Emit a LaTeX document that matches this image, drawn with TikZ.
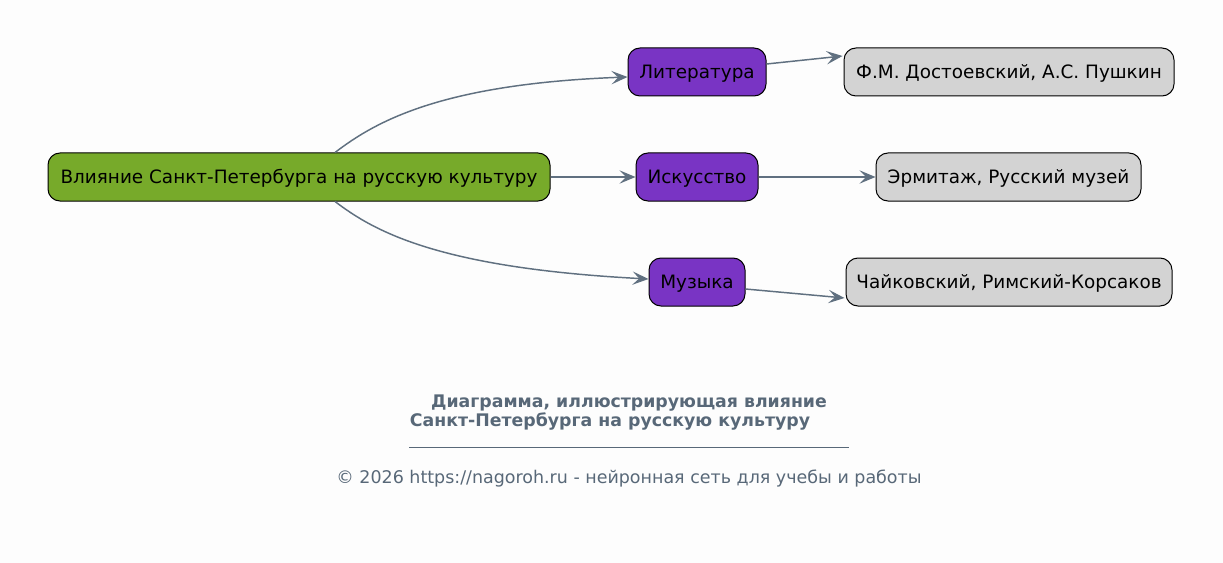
\documentclass[tikz,border=0pt]{standalone}
\usepackage{fontspec}
\setmainfont{DejaVu Sans}
\usetikzlibrary{arrows.meta,calc}

\definecolor{rootgreen}{RGB}{119,170,42}
\definecolor{topicpurple}{RGB}{121,52,196}
\definecolor{leafgray}{RGB}{211,211,211}
\definecolor{edgeslate}{RGB}{96,112,128}
\definecolor{titleslate}{RGB}{88,104,120}
\definecolor{pagebg}{RGB}{253,253,253}

\begin{document}
\begin{tikzpicture}[x=0.75pt, y=-0.75pt,
    box/.style = {draw = black, line width = 0.75pt, rounded corners = 9pt,
                  minimum height = 36pt, inner xsep = 0pt,
                  text height = 11pt, text depth = 1pt,
                  font = \fontsize{13.8pt}{16pt}\selectfont},
    rootbox/.style = {box, fill = rootgreen},
    topicbox/.style = {box, fill = topicpurple},
    leafbox/.style = {box, fill = leafgray},
    caption/.style = {text = titleslate, font = \fontsize{13.1pt}{15pt}\selectfont},
    boldcaption/.style = {text = titleslate, font = \fontsize{13pt}{15pt}\selectfont\bfseries},
    link/.style = {draw = edgeslate, line width = 1.1pt,
                   -{Stealth[length = 12pt, width = 10pt, inset = 5pt]}}]

        % Page and margins.
        \fill [pagebg] (0, 0) rectangle (1223, 563);
        \useasboundingbox (0, 0) rectangle (1223, 563);

        % The root of the tree.
        \node (root) at (299, 177) [rootbox, minimum width = 376.5pt]
            {Влияние Санкт-Петербурга на русскую культуру};

        % The three fields.
        \node (lit) at (697, 72) [topicbox, minimum width = 103.5pt] {Литература};
        \node (art) at (697, 177) [topicbox, minimum width = 91.5pt] {Искусство};
        \node (mus) at (697, 282) [topicbox, minimum width = 72pt] {Музыка};

        % Names for each field.
        \node (writers) at (1009, 72) [leafbox, minimum width = 247.5pt]
            {Ф.М. Достоевский, А.С. Пушкин};
        \node (museums) at (1008.5, 177) [leafbox, minimum width = 198.75pt]
            {Эрмитаж, Русский музей};
        \node (composers) at (1009, 282) [leafbox, minimum width = 244.5pt]
            {Чайковский, Римский-Корсаков};

        % Edges out of the root.
        \draw [link] ($(root.north)+(36, 0)$)
            .. controls (375, 122) and (440, 84) .. ($(lit.west)+(0, 5)$);
        \draw [link] (root.east) to (art.west);
        \draw [link] ($(root.south)+(36, 0)$)
            .. controls (375, 232) and (440, 268) .. ($(mus.west)+(0, -3)$);

        % Edges out of the fields.
        \draw [link] ($(lit.east)+(0, -8)$) to ($(writers.west)+(-1, -16)$);
        \draw [link] (art.east) to (museums.west);
        \draw [link] ($(mus.east)+(0, 7)$) to ($(composers.west)+(-1, 16)$);

        % Caption under the diagram.
        \node (title1) at (629, 403) [boldcaption]
            {Диаграмма, иллюстрирующая влияние};
        \node (title2) at (610, 421) [boldcaption]
            {Санкт-Петербурга на русскую культуру};
        \coordinate (ruleA) at (409, 447);
        \coordinate (ruleB) at (849, 447);
        \draw [titleslate, line width = 0.6pt] (ruleA) to (ruleB);
        \node (footer) at (629, 479) [caption]
            {© 2026 https://nagoroh.ru - нейронная сеть для учебы и работы};
    \end{tikzpicture}
\end{document}
